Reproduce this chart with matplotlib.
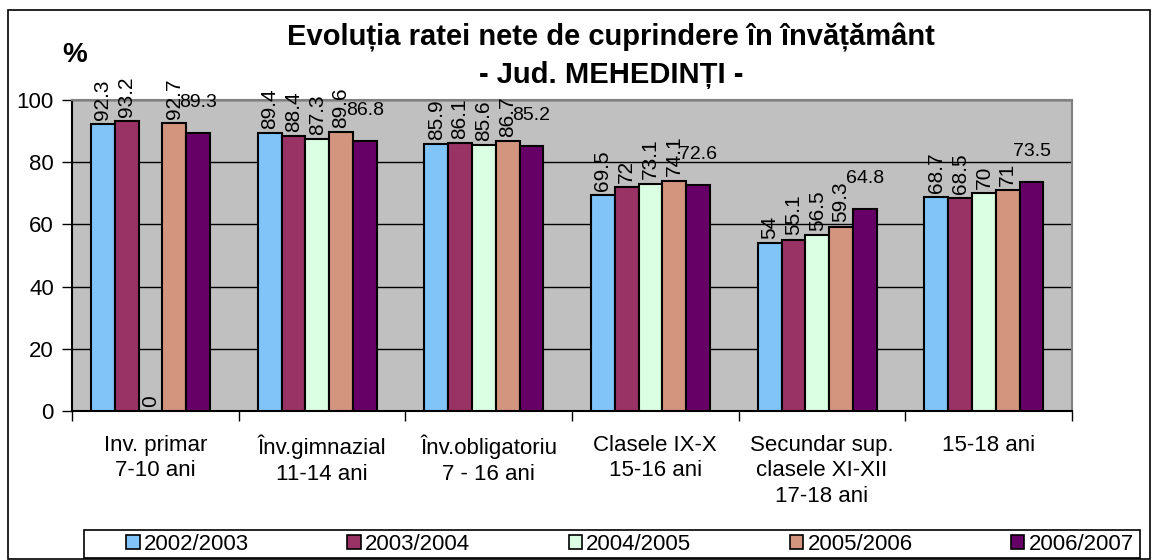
import matplotlib.pyplot as plt
import numpy as np
from matplotlib.patches import Patch, Rectangle

# Data
categories = ['Inv. primar\n7-10 ani', 'Înv.gimnazial\n11-14 ani', 'Înv.obligatoriu\n7 - 16 ani',
              'Clasele IX-X\n15-16 ani', 'Secundar sup.\nclasele XI-XII\n17-18 ani', '15-18 ani']
years = ['2002/2003', '2003/2004', '2004/2005', '2005/2006', '2006/2007']
v2002 = [92.3, 89.4, 85.9, 69.5, 54, 68.7]
v2003 = [93.2, 88.4, 86.1, 72, 55.1, 68.5]
v2004 = [0, 87.3, 85.6, 73.1, 56.5, 70]
v2005 = [92.7, 89.6, 86.7, 74.1, 59.3, 71]
v2006 = [89.3, 86.8, 85.2, 72.6, 64.8, 73.5]
series = [v2002, v2003, v2004, v2005, v2006]

colors = ['#80C4F8', '#993366', '#DAFFE2', '#D4957F', '#660066']

plt.rcParams['font.family'] = ['Liberation Sans', 'DejaVu Sans']

W, H = 1157, 560
fig = plt.figure(figsize=(W / 100, H / 100), dpi=100)
# outer chart frame
fig.patches.append(Rectangle((8 / W, 1 - 559 / H), 1142 / W, 549 / H, transform=fig.transFigure,
                             fill=False, edgecolor='black', linewidth=1.2))

ax = fig.add_axes([72 / W, 1 - 411 / H, 1000 / W, 311 / H])
ax.set_facecolor('#C0C0C0')

n = len(categories)
x = np.arange(n)
width = 1 / 7
for i, (vals, col) in enumerate(zip(series, colors)):
    pos = x + (i - 2.2) * width
    ax.bar(pos, vals, width, color=col, edgecolor='black', linewidth=1.5, zorder=3, label=years[i])
    for px, v in zip(pos, vals):
        if i < 4:
            # Excel stacked the first four labels vertically
            ax.annotate('%g' % v, (px, v), xytext=(0, 3), textcoords='offset points',
                        rotation=90, ha='center', va='bottom', fontsize=15, zorder=4)
        else:
            ax.annotate('%g' % v, (px, v), xytext=(0, 16), textcoords='offset points',
                        ha='center', va='bottom', fontsize=14, zorder=4)

ax.set_xlim(-0.5, n - 0.5)
ax.set_ylim(0, 100)
ax.set_yticks(range(0, 101, 20))
ax.tick_params(axis='y', labelsize=16, length=7, width=1, pad=6)
ax.yaxis.grid(True, color='black', linewidth=1, zorder=1)
ax.set_axisbelow(True)

ax.set_xticks(x)
ax.set_xticklabels(categories, fontsize=16, linespacing=1.3, va='top')
ax.tick_params(axis='x', length=0, pad=17)
ax.set_xticks(np.arange(n + 1) - 0.5, minor=True)
ax.tick_params(axis='x', which='minor', length=7, width=1)

for s in ['left', 'bottom']:
    ax.spines[s].set_color('black')
    ax.spines[s].set_linewidth(1.5)
for s in ['top', 'right']:
    ax.spines[s].set_color('#808080')
    ax.spines[s].set_linewidth(1.5)

# title and unit
cx = 611 / W
fig.text(cx, 1 - 37 / H, 'Evoluția ratei nete de cuprindere în învățământ', ha='center', va='center',
         fontsize=21, fontweight='bold')
fig.text(cx, 1 - 75 / H, '- Jud. MEHEDINȚI -', ha='center', va='center', fontsize=21, fontweight='bold')
fig.text(75 / W, 1 - 55 / H, '%', ha='center', va='center', fontsize=20, fontweight='bold')

# legend box + entries
fig.patches.append(Rectangle((84 / W, 1 - 558 / H), (1140 - 84) / W, 28 / H, transform=fig.transFigure,
                             fill=False, edgecolor='black', linewidth=1.2))
handles = [Patch(facecolor=c, edgecolor='black', linewidth=1.2) for c in colors]
fig.legend(handles, years, loc='center left', ncol=5, mode='expand',
           bbox_to_anchor=(124 / W, 1 - 556 / H, (1136 - 124) / W, 24 / H),
           fontsize=16, frameon=False, borderaxespad=0,
           handlelength=0.6, handleheight=0.6, handletextpad=0.2, borderpad=0.1)

fig.savefig('out.png', dpi=100)
